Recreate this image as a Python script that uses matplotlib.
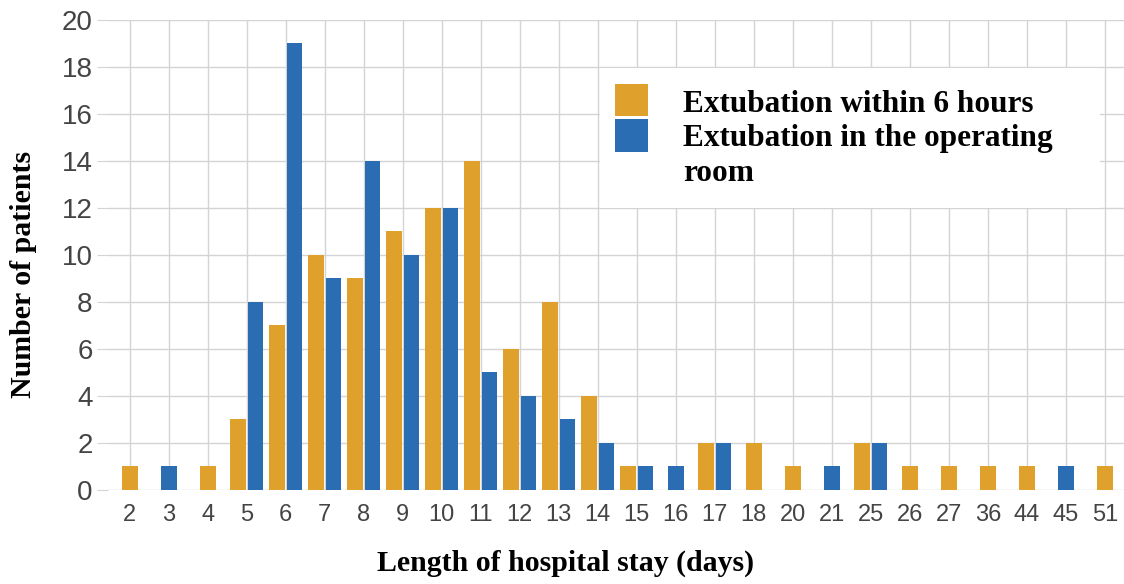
import matplotlib
matplotlib.use("Agg")
import matplotlib.pyplot as plt
from matplotlib.patches import Rectangle
import numpy as np

# data
days = ["2", "3", "4", "5", "6", "7", "8", "9", "10", "11", "12", "13", "14",
        "15", "16", "17", "18", "20", "21", "25", "26", "27", "36", "44", "45", "51"]
within_6h = [1, 0, 1, 3, 7, 10, 9, 11, 12, 14, 6, 8, 4, 1, 0, 2, 2, 1, 0, 2, 1, 1, 1, 1, 0, 1]
operating_room = [0, 1, 0, 8, 19, 9, 14, 10, 12, 5, 4, 3, 2, 1, 1, 2, 0, 0, 1, 2, 0, 0, 0, 0, 1, 0]
series_names = ["Extubation within 6 hours", "Extubation in the operating", "room"]

orange = "#DFA12B"
blue = "#2A6DB3"

fig = plt.figure(figsize=(11.24, 5.84), dpi=100)
ax = fig.add_axes([0.096, 0.161, 0.904, 0.805])

x = np.arange(len(days))
w = 0.4
off = 0.22
for i in range(len(days)):
    a, b = within_6h[i], operating_room[i]
    if a > 0 and b > 0:
        ax.bar(x[i] - off, a, width=w, color=orange, zorder=3)
        ax.bar(x[i] + off, b, width=w, color=blue, zorder=3)
    elif a > 0:
        ax.bar(x[i], a, width=w, color=orange, zorder=3)
    elif b > 0:
        ax.bar(x[i], b, width=w, color=blue, zorder=3)

ax.set_xlim(-0.56, 25.49)
ax.set_ylim(0, 20)
ax.set_yticks(range(0, 21, 2))
ax.set_xticks(x)
ax.set_xticklabels(days)
ax.grid(True, color="#d4d4d4", linewidth=1, zorder=0)
for s in ax.spines.values():
    s.set_visible(False)
ax.tick_params(axis="y", length=8, color="#d4d4d4", labelsize=20, labelcolor="#444444", pad=3)
ax.tick_params(axis="x", length=0, labelsize=17, labelcolor="#444444", pad=10)
for lab in ax.get_xticklabels() + ax.get_yticklabels():
    lab.set_family("Liberation Sans")

serif = "Liberation Serif"
fig.text(0.021, 0.53, "Number of patients", rotation=90, ha="center", va="center",
         fontsize=21.5, fontweight="bold", family=serif)
fig.text(0.503, 0.035, "Length of hospital stay (days)", ha="center", va="center",
         fontsize=21.5, fontweight="bold", family=serif)

# legend box
W, H = 1124.0, 584.0
def fx(px):
    return px / W
def fy(py):
    return 1 - py / H

fig.patches.append(Rectangle((fx(600), fy(208)), fx(500), (208 - 68) / H,
                             transform=fig.transFigure, facecolor="white", edgecolor="none", zorder=5))
fig.patches.append(Rectangle((fx(615), fy(116)), 33 / W, 32 / H,
                             transform=fig.transFigure, facecolor=orange, edgecolor="none", zorder=6))
fig.patches.append(Rectangle((fx(615), fy(152)), 33 / W, 33 / H,
                             transform=fig.transFigure, facecolor=blue, edgecolor="none", zorder=6))
for name, base in zip(series_names, [112, 146, 181]):
    fig.text(fx(683), fy(base), name, ha="left", va="baseline",
             fontsize=22.5, fontweight="bold", family=serif, zorder=7)

fig.savefig("out.png", dpi=100)
